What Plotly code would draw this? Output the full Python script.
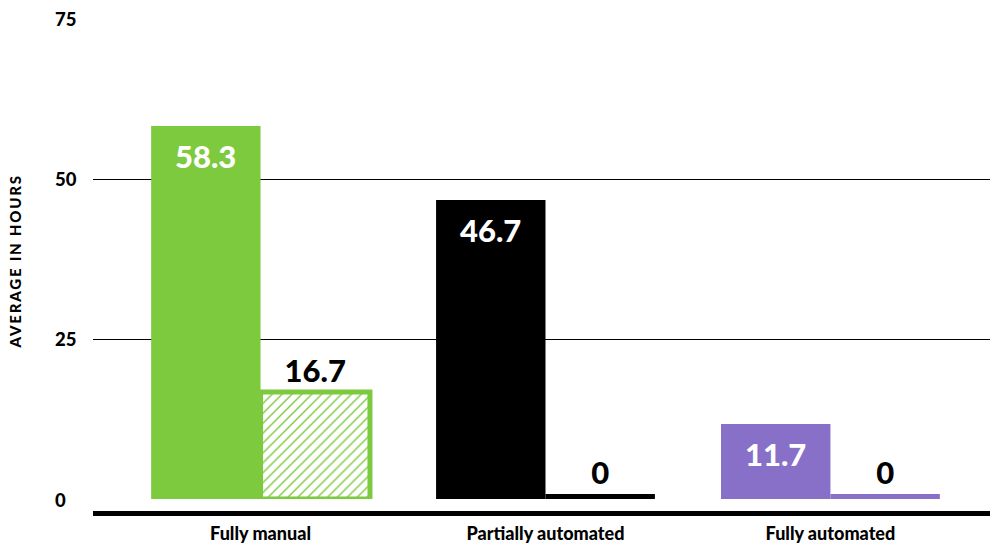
import plotly.graph_objects as go

categories = ["Fully manual", "Partially automated", "Fully automated"]
series_a = [58.3, 46.7, 11.7]
series_b = [16.7, 0, 0]
y_ticks = [0, 25, 50, 75]
axis_title = "AVERAGE IN HOURS"

GREEN = "#7dca3e"
PURPLE = "#8870c9"
BLACK = "#000000"
colors = [GREEN, BLACK, PURPLE]
b_hatched = [True, False, False]

ZERO_STUB = 0.8  # visual height for zero-valued bars

FONT = "Lato, 'Open Sans', sans-serif"
BAR_HALF_PX = 55

fig = go.Figure()
fig.add_trace(go.Bar(
    x=categories, y=series_a, offsetgroup="a",
    marker=dict(color=colors, line=dict(width=0)),
    hoverinfo="skip",
))
for cat, val, col, hatched in zip(categories, series_b, colors, b_hatched):
    shown = val if val > 0 else ZERO_STUB
    if hatched:
        marker = dict(color="white", line=dict(color=col, width=5),
                      pattern=dict(shape="/", fillmode="replace", fgcolor=col,
                                   bgcolor="white", fgopacity=1, size=7, solidity=0.2))
    else:
        marker = dict(color=col, line=dict(width=0))
    fig.add_trace(go.Bar(
        x=[cat], y=[shown], offsetgroup="b", marker=marker,
        text=[f"{val:g}"], textposition="outside", cliponaxis=False,
        textfont=dict(family=FONT, size=31, color="black", weight=900),
        hoverinfo="skip",
    ))

for cat, val in zip(categories, series_a):
    fig.add_annotation(x=cat, y=val, xref="x", yref="y", text=f"{val:g}",
                       showarrow=False, xanchor="center", yanchor="top",
                       xshift=-BAR_HALF_PX, yshift=-9,
                       font=dict(family=FONT, size=31, color="white", weight=900))

# left-aligned y tick labels
for t in y_ticks:
    fig.add_annotation(x=0, y=t, xref="paper", yref="y", text=f"{t}",
                       showarrow=False, xanchor="left", yanchor="middle",
                       xshift=-40, yshift=-1 if t == 0 else 0,
                       font=dict(family=FONT, size=18.5, color="black", weight=900))

fig.add_shape(type="line", xref="paper", yref="paper", x0=0, x1=1,
              y0=-0.0302, y1=-0.0302, line=dict(color="black", width=5))

fig.add_annotation(text=f'<span style="letter-spacing:1.8px">{axis_title}</span>',
                   xref="paper", yref="paper", x=0, y=0.495,
                   xanchor="center", yanchor="middle", xshift=-78, textangle=-90,
                   showarrow=False,
                   font=dict(family=FONT, size=15, color="black", weight=900))

fig.update_layout(
    width=990, height=544,
    margin=dict(l=93, r=0, t=19, b=45),
    paper_bgcolor="white", plot_bgcolor="white",
    barmode="group", bargap=0.232, bargroupgap=0,
    showlegend=False,
    font=dict(family=FONT, color="black"),
    xaxis=dict(range=[-0.588, 2.56], showgrid=False, zeroline=False, showline=False,
               ticks="", ticklabelstandoff=22,
               tickfont=dict(family=FONT, size=18, color="black", weight=900)),
    yaxis=dict(range=[0, 75], tickvals=y_ticks, showgrid=True, gridcolor="black",
               gridwidth=1, zeroline=False, showline=False, ticks="",
               showticklabels=False),
)

fig.write_html("out.html")
